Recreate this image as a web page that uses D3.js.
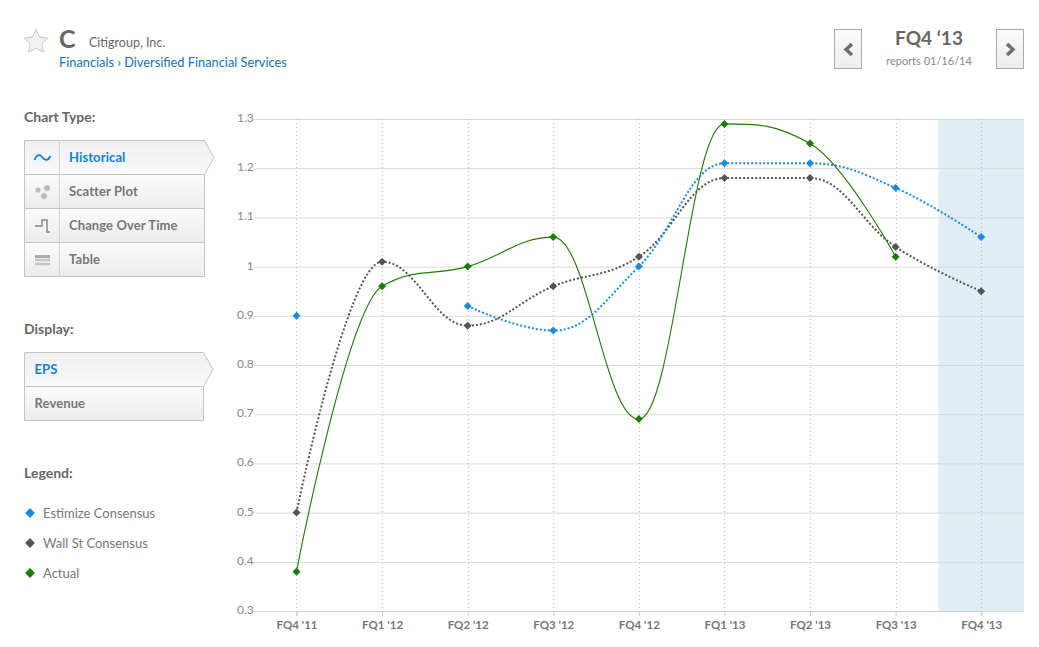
<!DOCTYPE html>
<html><head><meta charset="utf-8">
<style>html,body{margin:0;padding:0;background:#fff}svg{display:block}
text{font-family:Lato,"Open Sans",sans-serif}
.head{font-size:14px;font-weight:700;fill:#666}
.row{font-size:13px;font-weight:700;fill:#777;letter-spacing:.1px}
.sel{fill:#1581cf}
.leg{font-size:13px;fill:#777}
</style>
<script src="https://cdn.jsdelivr.net/npm/d3@7"></script></head><body>
<svg id="c" width="1039" height="647"></svg>
<script>
const quarters=["FQ4 '11","FQ1 '12","FQ2 '12","FQ3 '12","FQ4 '12","FQ1 '13","FQ2 '13","FQ3 '13","FQ4 '13"];
const estimize=[0.9,null,0.92,0.87,1.0,1.21,1.21,1.16,1.06];
const wallSt=[0.5,1.01,0.88,0.96,1.02,1.18,1.18,1.04,0.95];
const actual=[0.38,0.96,1.0,1.06,0.69,1.29,1.25,1.02,null];
const yTicks=[0.3,0.4,0.5,0.6,0.7,0.8,0.9,1,1.1,1.2,1.3];
const chartTypes=["Historical","Scatter Plot","Change Over Time","Table"];
const displays=["EPS","Revenue"];
const legendNames=["Estimize Consensus","Wall St Consensus","Actual"];
const colors=["#1a8be0","#555555","#1c7a05"];

const svg=d3.select("#c");
const defs=svg.append("defs");
const g=defs.append("linearGradient").attr("id","btn").attr("x1",0).attr("y1",0).attr("x2",0).attr("y2",1);
g.append("stop").attr("offset","0").attr("stop-color","#fbfbfb");
g.append("stop").attr("offset","1").attr("stop-color","#ececec");
const g2=defs.append("linearGradient").attr("id","act").attr("x1",0).attr("y1",0).attr("x2",0).attr("y2",1);
g2.append("stop").attr("offset","0").attr("stop-color","#efefef");
g2.append("stop").attr("offset","1").attr("stop-color","#f9f9f9");

const L=253.7,R=1024,T=119,B=611;
const y=d3.scaleLinear().domain([0.3,1.3]).range([B,T]);
const step=(R-L)/9;
const x=d3.scalePoint().domain(quarters).range([L+step/2,R-step/2]);

// highlighted quarter band
svg.append("rect").attr("x",x("FQ4 '13")-step/2).attr("y",T).attr("width",step).attr("height",B-T).attr("fill","#e1edf5");

// horizontal grid and y labels
const ya=svg.append("g").attr("transform",`translate(${L},0)`)
 .call(d3.axisLeft(y).tickValues(yTicks).tickSize(-(R-L)).tickPadding(0).tickFormat(d=>String(d)));
ya.select(".domain").remove();
ya.selectAll("line").attr("stroke","#d9d9d9").attr("stroke-width",1);
ya.selectAll("text").attr("fill","#888").style("font-size","12px").attr("dy","0.2em").style("font-family","Lato,sans-serif");

// vertical dotted lines
svg.append("g").selectAll("line").data(quarters).join("line")
 .attr("x1",d=>Math.round(x(d))+.5).attr("x2",d=>Math.round(x(d))+.5).attr("y1",T).attr("y2",B)
 .attr("stroke","#bdbdbd").attr("stroke-dasharray","1,3");

// x axis
const xa=svg.append("g").attr("transform",`translate(0,${B})`).call(d3.axisBottom(x).tickSize(5).tickPadding(5));
xa.select(".domain").attr("stroke","#c8ccd4");
xa.selectAll("line").attr("stroke","#c0d0e0");
xa.selectAll("text").attr("fill","#777").style("font-size","11.5px").style("font-weight","700").style("font-family","Lato,sans-serif");

// spline with the chart library's smoothing rule
function SoftSpline(ctx){this._ctx=ctx;}
SoftSpline.prototype={
 areaStart(){},areaEnd(){},
 lineStart(){this._p=[];},
 point(a,b){this._p.push([+a,+b]);},
 lineEnd(){
  const p=this._p,c=this._ctx,s=1.5;
  if(!p.length)return;
  c.moveTo(p[0][0],p[0][1]);
  const conts=p.map((q,i)=>{
   if(i===0||i===p.length-1)return {lx:q[0],ly:q[1],rx:q[0],ry:q[1]};
   const a=p[i-1],b=p[i+1];
   const lx=(s*q[0]+a[0])/(s+1),rx=(s*q[0]+b[0])/(s+1);
   let ly=(s*q[1]+a[1])/(s+1),ry=(s*q[1]+b[1])/(s+1);
   const k=((ry-ly)*(rx-q[0]))/(rx-lx)+q[1]-ry;
   ly+=k;ry+=k;
   if(ly>a[1]&&ly>q[1]){ly=Math.max(a[1],q[1]);ry=2*q[1]-ly;}
   else if(ly<a[1]&&ly<q[1]){ly=Math.min(a[1],q[1]);ry=2*q[1]-ly;}
   if(ry>b[1]&&ry>q[1]){ry=Math.max(b[1],q[1]);ly=2*q[1]-ry;}
   else if(ry<b[1]&&ry<q[1]){ry=Math.min(b[1],q[1]);ly=2*q[1]-ry;}
   return {lx,ly,rx,ry};
  });
  for(let i=1;i<p.length;i++)
   c.bezierCurveTo(conts[i-1].rx,conts[i-1].ry,conts[i].lx,conts[i].ly,p[i][0],p[i][1]);
 }
};
const softSpline=ctx=>new SoftSpline(ctx);
const line=d3.line().defined(d=>d!==null).x((d,i)=>x(quarters[i])).y(d=>y(d)).curve(softSpline);

const series=[
 {v:actual,c:colors[2],w:1.1,dash:null},
 {v:wallSt,c:colors[1],w:2,dash:"2,2"},
 {v:estimize,c:colors[0],w:2,dash:"2,2"}];
series.forEach(s=>{
 svg.append("path").attr("d",line(s.v)).attr("fill","none").attr("stroke",s.c)
  .attr("stroke-width",s.w).attr("stroke-dasharray",s.dash);
});
const diamond=d3.symbol().type(d3.symbolSquare).size(32)();
[{v:estimize,c:colors[0]},{v:wallSt,c:colors[1]},{v:actual,c:colors[2]}].forEach(s=>{
 svg.append("g").selectAll("path").data(s.v.map((d,i)=>[quarters[i],d]).filter(d=>d[1]!==null)).join("path")
  .attr("d",diamond).attr("fill",s.c)
  .attr("transform",d=>`translate(${x(d[0])},${y(d[1])}) rotate(45)`);
});

// header
const starPts=d3.range(10).map(i=>{const r=i%2?6.2:12.5,a=i*Math.PI/5;return [r*Math.sin(a),-r*Math.cos(a)];});
svg.append("path").attr("d",d3.line().curve(d3.curveLinearClosed)(starPts)).attr("transform","translate(36,42)").attr("fill","#f1f1f1").attr("stroke","#c8c8c8");
svg.append("text").attr("x",59).attr("y",48).attr("font-size",25).attr("font-weight",700).attr("fill","#666").text("C");
svg.append("text").attr("x",89).attr("y",47).attr("font-size",12.5).attr("fill","#666").text("Citigroup, Inc.");
svg.append("text").attr("x",59).attr("y",67).attr("font-size",12.8).attr("fill","#1272b8").text("Financials › Diversified Financial Services");
svg.append("text").attr("x",929).attr("y",44.5).attr("text-anchor","middle").attr("font-size",19).attr("font-weight",700).attr("fill","#666").text("FQ4 ‘13");
svg.append("text").attr("x",929).attr("y",65).attr("text-anchor","middle").attr("font-size",11).attr("fill","#888").text("reports 01/16/14");
[[834.5,"M852,44 L846,49.5 L852,55"],[996.5,"M1007,44 L1013,49.5 L1007,55"]].forEach(([bx,chev])=>{
 svg.append("rect").attr("x",bx).attr("y",29.5).attr("width",27).attr("height",39).attr("fill","url(#btn)").attr("stroke","#aaa");
 svg.append("path").attr("d",chev).attr("fill","none").attr("stroke","#6d6d6d").attr("stroke-width",3.4);
});

// side panels
function panel(names,top,left,w,sep){
 const h=34;
 names.forEach((n,i)=>{
  const ty=top+i*h;
  const active=i===0;
  const d=active?`M${left},${ty}H${left+w}L${left+w+9.5},${ty+17}L${left+w},${ty+h}H${left}Z`
                :`M${left},${ty}H${left+w}V${ty+h}H${left}Z`;
  svg.append("path").attr("d",d).attr("fill",active?"url(#act)":"url(#btn)").attr("stroke","#c4c4c4");
  if(sep)svg.append("line").attr("x1",left+35).attr("x2",left+35).attr("y1",ty).attr("y2",ty+h).attr("stroke","#d4d4d4");
  svg.append("text").attr("x",left+(sep?44.5:10)).attr("y",ty+21.5).attr("class","row"+(active?" sel":"")).text(n);
 });
}
svg.append("text").attr("x",24).attr("y",122).attr("class","head").text("Chart Type:");
panel(chartTypes,140.5,24.5,180,true);
svg.append("text").attr("x",24).attr("y",334).attr("class","head").text("Display:");
panel(displays,352.5,24.5,179,false);
svg.append("text").attr("x",24).attr("y",478).attr("class","head").text("Legend:");

// panel icons
svg.append("path").attr("d","M34.5,160 C37,154 40,154 42.5,157.5 C45,161 48,161 50.5,156").attr("fill","none").attr("stroke","#1581cf").attr("stroke-width",1.8);
[[38,190,2.6],[47,188,3],[44,196,3]].forEach(c=>svg.append("circle").attr("cx",c[0]).attr("cy",c[1]).attr("r",c[2]).attr("fill","#bbb"));
svg.append("path").attr("d","M35,226H42V220H47V232H50").attr("fill","none").attr("stroke","#888").attr("stroke-width",1.5);
svg.append("rect").attr("x",35).attr("y",255).attr("width",15).attr("height",3).attr("fill","#aaa");
svg.append("path").attr("d","M35,260H50M35,264H50").attr("fill","none").attr("stroke","#c4c4c4").attr("stroke-width",2.4);

// legend
legendNames.forEach((n,i)=>{
 const ly=513+i*30;
 svg.append("path").attr("d",d3.symbol().type(d3.symbolSquare).size(48)()).attr("fill",colors[i]).attr("transform",`translate(30,${ly}) rotate(45)`);
 svg.append("text").attr("x",43).attr("y",ly+4.5).attr("class","leg").text(n);
});
</script></body></html>
